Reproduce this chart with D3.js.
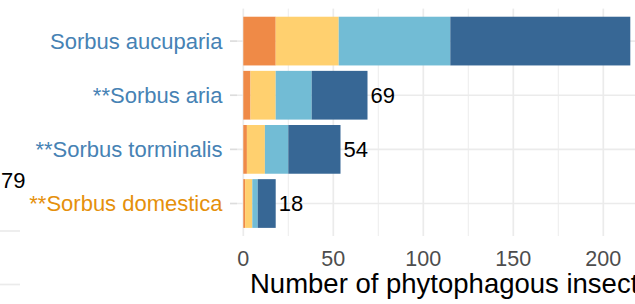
<!DOCTYPE html>
<html>
<head>
<meta charset="utf-8">
<script src="https://cdn.jsdelivr.net/npm/d3@7"></script>
<style>
  body { margin: 0; background: #fff; }
  svg { display: block; font-family: "Liberation Sans", Arial, sans-serif; }
</style>
</head>
<body>
<div id="chart"></div>
<script>
// species shown on the y axis, top to bottom
const species = ["Sorbus aucuparia", "**Sorbus aria", "**Sorbus torminalis", "**Sorbus domestica"];
const labelColors = ["#4682B4", "#4682B4", "#4682B4", "#E5900B"];

// stacked segments, left to right
const groups = ["specific", "rosaceae", "woody", "polyphagous"];
const groupColors = ["#EF8A47", "#FFD06F", "#72BCD5", "#376795"];
const specific    = [18, 4, 2, 1];
const rosaceae    = [35, 14, 10, 4];
const woody       = [62, 20, 13, 3];
const polyphagous = [100, 31, 29, 10];

const xTicks = [0, 50, 100, 150, 200];
const xMinor = [25, 75, 125, 175, 225];

function renderChart(containerSelector, width, height) {
  const rows = species.map((s, i) => ({
    name: s,
    specific: specific[i],
    rosaceae: rosaceae[i],
    woody: woody[i],
    polyphagous: polyphagous[i],
    total: specific[i] + rosaceae[i] + woody[i] + polyphagous[i]
  }));

  const panelLeft = 237, panelTop = 8.6, panelBottom = 236;

  const x_scale = d3.scaleLinear()
    .domain([0, 200])
    .range([243.3, 603.3]);

  const y_scale = d3.scaleBand()
    .domain(species)
    .range([panelTop, panelBottom])
    .paddingInner(0.1)
    .paddingOuter(0.15);

  const color_scale = d3.scaleOrdinal()
    .domain(groups)
    .range(groupColors);

  const svg = d3.select(containerSelector)
    .append("svg")
    .attr("width", width)
    .attr("height", height);

  // grid
  svg.selectAll(".minor")
    .data(xMinor)
    .enter()
    .append("line")
    .attr("x1", d => x_scale(d)).attr("x2", d => x_scale(d))
    .attr("y1", panelTop).attr("y2", panelBottom)
    .attr("stroke", "#EBEBEB").attr("stroke-width", 0.9);

  svg.selectAll(".major")
    .data(xTicks.concat([250]))
    .enter()
    .append("line")
    .attr("x1", d => x_scale(d)).attr("x2", d => x_scale(d))
    .attr("y1", panelTop).attr("y2", panelBottom)
    .attr("stroke", "#EBEBEB").attr("stroke-width", 1.7);

  svg.selectAll(".hgrid")
    .data(species)
    .enter()
    .append("line")
    .attr("x1", panelLeft).attr("x2", width)
    .attr("y1", d => y_scale(d) + y_scale.bandwidth() / 2)
    .attr("y2", d => y_scale(d) + y_scale.bandwidth() / 2)
    .attr("stroke", "#EBEBEB").attr("stroke-width", 1.7);

  // y ticks
  svg.selectAll(".ytick")
    .data(species)
    .enter()
    .append("line")
    .attr("x1", panelLeft - 7).attr("x2", panelLeft)
    .attr("y1", d => y_scale(d) + y_scale.bandwidth() / 2)
    .attr("y2", d => y_scale(d) + y_scale.bandwidth() / 2)
    .attr("stroke", "#DDDDDD").attr("stroke-width", 1.7);

  // stacked bars
  const stacked = d3.stack().keys(groups)(rows);

  svg.selectAll(".layer")
    .data(stacked)
    .enter()
    .append("g")
    .attr("fill", d => color_scale(d.key))
    .selectAll("rect")
    .data(d => d)
    .enter()
    .append("rect")
    .attr("x", d => x_scale(d[0]))
    .attr("y", d => y_scale(d.data.name))
    .attr("width", d => x_scale(d[1]) - x_scale(d[0]))
    .attr("height", y_scale.bandwidth());

  // totals (the longest bar's label falls outside the cropped view)
  svg.selectAll(".total")
    .data(rows.filter(d => x_scale(d.total) + 3 < width - 5))
    .enter()
    .append("text")
    .attr("x", d => x_scale(d.total) + 3)
    .attr("y", d => y_scale(d.name) + y_scale.bandwidth() / 2)
    .attr("dy", "0.36em")
    .attr("font-size", 22)
    .attr("fill", "#000")
    .text(d => d.total);

  // y labels
  svg.selectAll(".ylab")
    .data(species)
    .enter()
    .append("text")
    .attr("x", 222.5)
    .attr("y", d => y_scale(d) + y_scale.bandwidth() / 2)
    .attr("dy", "0.36em")
    .attr("text-anchor", "end")
    .attr("font-size", 22)
    .attr("fill", (d, i) => labelColors[i])
    .text(d => d);

  // x tick labels
  svg.selectAll(".xlab")
    .data(xTicks)
    .enter()
    .append("text")
    .attr("x", d => x_scale(d))
    .attr("y", 266)
    .attr("text-anchor", "middle")
    .attr("font-size", 21.5)
    .attr("fill", "#4D4D4D")
    .text(d => d);

  // x axis title
  svg.append("text")
    .attr("x", 250)
    .attr("y", 293)
    .attr("font-size", 27.5)
    .attr("fill", "#000")
    .text("Number of phytophagous insect species");

  // fragment of the neighbouring panel cut off at the left edge
  svg.append("text")
    .attr("x", 25.5)
    .attr("y", 187.5)
    .attr("text-anchor", "end")
    .attr("font-size", 22)
    .attr("fill", "#000")
    .text("79");

  svg.selectAll(".leftgrid")
    .data([231, 284.5])
    .enter()
    .append("line")
    .attr("x1", 0).attr("x2", 20)
    .attr("y1", d => d).attr("y2", d => d)
    .attr("stroke", "#EBEBEB").attr("stroke-width", 1.7);
}

renderChart("#chart", 635, 304);
</script>
</body>
</html>
